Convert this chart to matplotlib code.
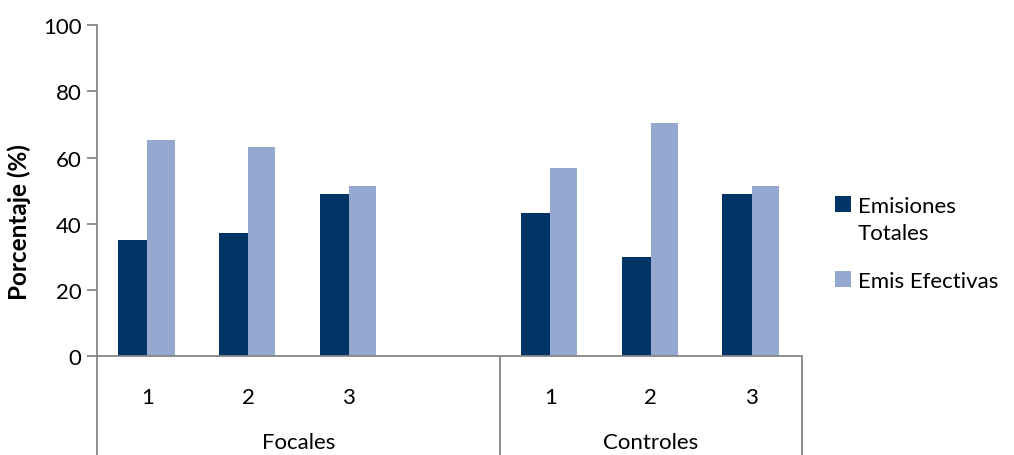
import matplotlib
matplotlib.use("Agg")
import matplotlib.pyplot as plt
import matplotlib.transforms as mtransforms
import numpy as np

# grouped categories: two groups, with an empty slot separating them
groups = ["Focales", "Controles"]
group_slots = [4, 3]
categories = ["1", "2", "3", "", "1", "2", "3"]
emis_totales = [35, 37.2, 49, np.nan, 43.3, 30, 49]
emis_efectivas = [65.3, 63.2, 51.4, np.nan, 56.8, 70.4, 51.4]
series_names = ["Emisiones\nTotales", "Emis Efectivas"]

DARK = "#003366"
LIGHT = "#95A9D0"
AXIS = "#868686"
FS = 16

plt.rcParams["font.family"] = ["Lato", "DejaVu Sans"]

fig = plt.figure(figsize=(10.14, 4.56), dpi=100)
ax = fig.add_axes([97 / 1014, 1 - 357.3 / 456, 705 / 1014, 331.3 / 456])

x = np.arange(len(categories))
w = 0.29
b1 = ax.bar(x - w / 2, emis_totales, w, color=DARK, label=series_names[0])
b2 = ax.bar(x + w / 2 - 0.01, emis_efectivas, w - 0.02, color=LIGHT, label=series_names[1])

ax.set_xlim(-0.5, len(categories) - 0.5)
ax.set_ylim(0, 100)
ax.set_yticks(range(0, 101, 20))
ax.tick_params(axis="y", direction="out", length=7, width=1.3, color=AXIS,
               labelsize=FS, pad=4)
ax.set_xticks(x)
ax.set_xticklabels(categories)
ax.tick_params(axis="x", length=0, labelsize=FS, pad=22)

for side in ["top", "right"]:
    ax.spines[side].set_visible(False)
for side in ["left", "bottom"]:
    ax.spines[side].set_color(AXIS)
    ax.spines[side].set_linewidth(1.3)

ax.set_ylabel("Porcentaje (%)", fontsize=FS + 1.5, fontweight="bold")
ax.yaxis.set_label_coords(-0.093, 0.408)

# group separators below the category axis, and group names
trans = mtransforms.blended_transform_factory(ax.transData, ax.transAxes)
edges = np.concatenate([[0], np.cumsum(group_slots)]) - 0.5
for e in edges:
    ax.plot([e, e], [0, -0.32], transform=trans, color=AXIS, lw=1.3,
            clip_on=False, solid_capstyle="butt")
for name, lo, hi in zip(groups, edges[:-1], edges[1:]):
    ax.text((lo + hi) / 2, -0.258, name, transform=trans, ha="center",
            va="center", fontsize=FS)

leg = ax.legend(handles=[b1, b2], loc="upper left",
                bbox_to_anchor=(826 / 1014, 1 - 188 / 456),
                bbox_transform=fig.transFigure, frameon=False, fontsize=FS,
                handlelength=0.72, handleheight=0.72, handletextpad=0.3,
                labelspacing=1.25, borderaxespad=0)
for t in leg.get_texts():
    t.set_linespacing(1.45)
# keep each swatch level with the first line of its label
for col in leg._legend_handle_box.get_children():
    for row in col.get_children():
        row.align = "top"

fig.savefig("out.png", dpi=100)
